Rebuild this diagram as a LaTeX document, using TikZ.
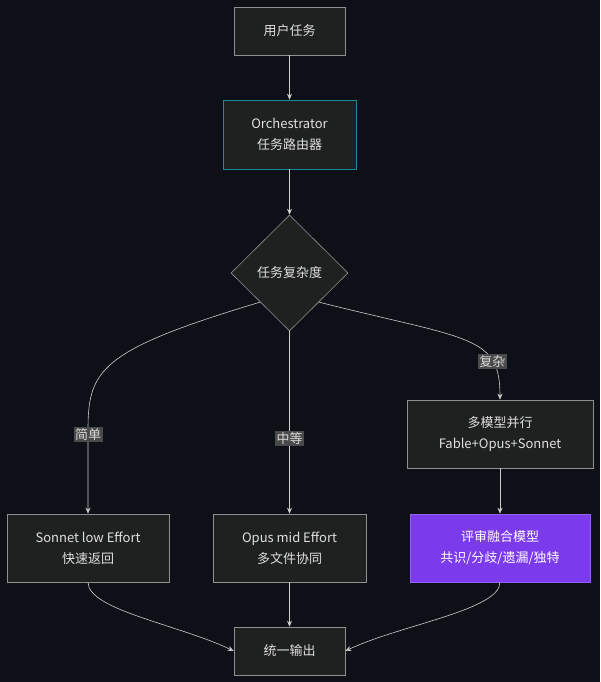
\documentclass[tikz,border=0pt]{standalone}
\usepackage{fontspec}
\setmainfont{Noto Sans CJK SC}
\usetikzlibrary{shapes.geometric,arrows.meta}
\definecolor{bgc}{HTML}{0D1117}
\definecolor{boxc}{HTML}{1F2020}
\definecolor{linec}{HTML}{CCCCCC}
\definecolor{tealc}{HTML}{1A8A9A}
\definecolor{purc}{HTML}{7C3AED}
\definecolor{labc}{HTML}{4A4A4A}
\tikzset{
  box/.style={draw=linec!70!black,fill=boxc,text=white!88!black,align=center,
    minimum height=48pt,font=\fontsize{13}{21}\selectfont,line width=0.6pt},
  lbl/.style={fill=labc,text=white!85!black,inner sep=1.5pt,font=\fontsize{13}{15}\selectfont},
  conn/.style={draw=linec,line width=0.6pt,-{Stealth[length=6pt,width=5pt]}}
}
\begin{document}
\begin{tikzpicture}[x=1pt,y=-1pt]
\fill[bgc] (0,0) rectangle (600,682);
\useasboundingbox (0,0) rectangle (600,682);

\node[box,minimum width=111pt] (task) at (289.5,31) {用户任务};
\node[box,draw=tealc,minimum width=133pt,minimum height=69pt] (orch) at (289.5,134.5) {Orchestrator\\任务路由器};
\node[box,diamond,minimum width=117pt,minimum height=116pt,inner sep=0pt] (cplx) at (289.5,273) {任务复杂度};
\node[box,minimum width=186pt,minimum height=68pt] (multi) at (500,434) {多模型并行\\Fable+Opus+Sonnet};
\node[box,minimum width=162pt,minimum height=68pt] (sonnet) at (88,548) {Sonnet low Effort\\快速返回};
\node[box,minimum width=153pt,minimum height=68pt] (opus) at (289.5,548) {Opus mid Effort\\多文件协同};
\node[box,fill=purc,draw=purc!80!white,text=white,minimum width=180pt,minimum height=68pt] (review) at (500,548) {评审融合模型\\共识/分歧/遗漏/独特};
\node[box,minimum width=111pt] (out) at (289.5,651) {统一输出};

\draw[conn] (task) -- (orch);
\draw[conn] (orch) -- (cplx);
\draw[conn] (cplx.south west) .. controls (100,350) and (88,370) .. (88,430) -- (sonnet.north)
  node[lbl,pos=0.05] {简单};
\draw[conn] (cplx) -- (opus) node[lbl,pos=0.59] {中等};
\draw[conn] (cplx.south east) .. controls (470,340) and (500,335) .. (multi.north)
  node[lbl,pos=0.74] {复杂};
\draw[conn] (multi) -- (review);
\draw[conn] (sonnet.south) .. controls (88,610) and (180,625) .. (out.west);
\draw[conn] (opus) -- (out);
\draw[conn] (review.south) .. controls (500,610) and (400,625) .. (out.east);
\end{tikzpicture}
\end{document}
